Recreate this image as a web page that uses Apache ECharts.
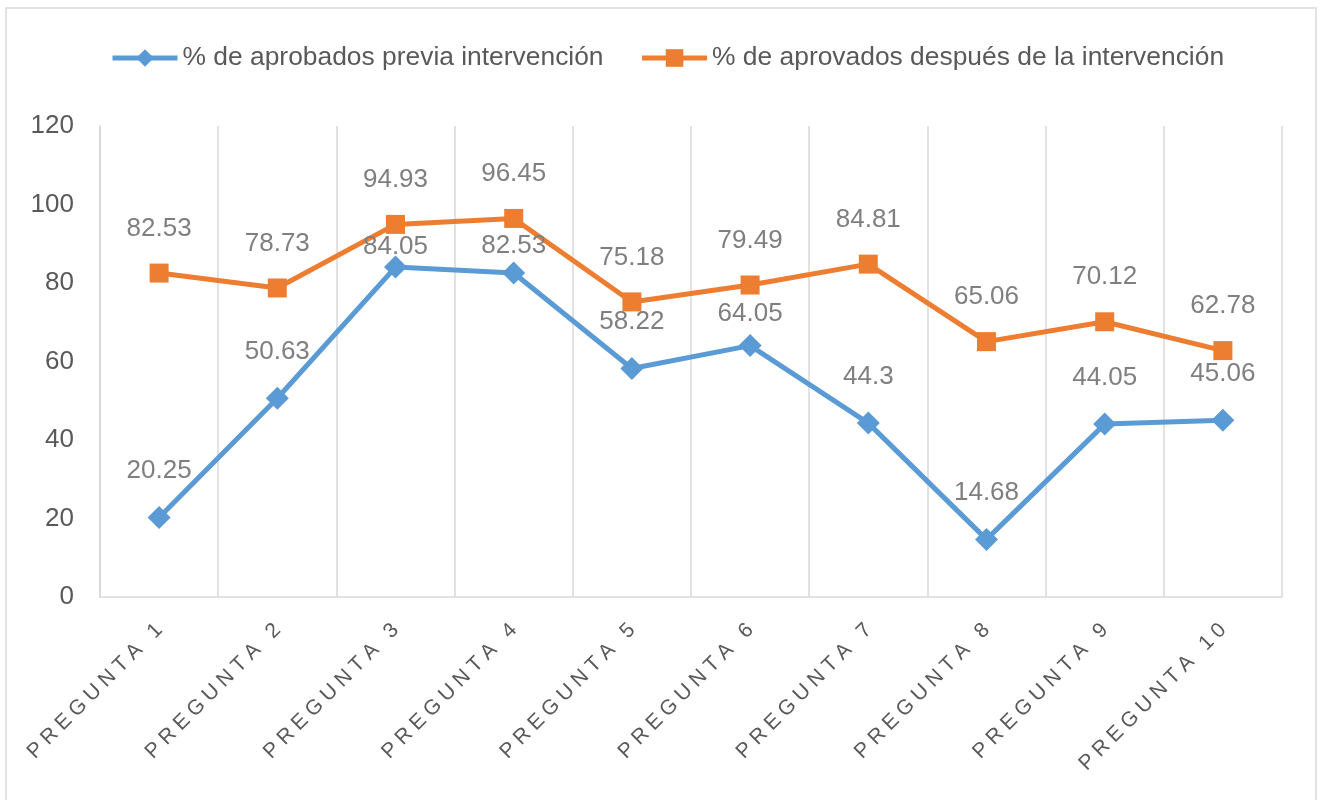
<!DOCTYPE html>
<html>
<head>
<meta charset="utf-8">
<script src="https://cdn.jsdelivr.net/npm/echarts@6/dist/echarts.min.js"></script>
<style>
  html, body { margin: 0; padding: 0; background: #fff; }
  #chart { width: 1324px; height: 800px; }
</style>
</head>
<body>
<div id="chart"></div>
<script>
const categories = ['PREGUNTA 1', 'PREGUNTA 2', 'PREGUNTA 3', 'PREGUNTA 4', 'PREGUNTA 5',
  'PREGUNTA 6', 'PREGUNTA 7', 'PREGUNTA 8', 'PREGUNTA 9', 'PREGUNTA 10']
const previa = [20.25, 50.63, 84.05, 82.53, 58.22, 64.05, 44.3, 14.68, 44.05, 45.06]
const despues = [82.53, 78.73, 94.93, 96.45, 75.18, 79.49, 84.81, 65.06, 70.12, 62.78]
const seriesNames = ['% de aprobados previa intervención', '% de aprovados después de la intervención']

const font = '"Liberation Sans", Arial, sans-serif'
const gridColor = '#d9d9d9'

// labels moved down by hand in the original so they don't sit on the orange line
const previaLabelNudge = { 2: 26, 3: 19, 5: 15 }

const chart = echarts.init(document.getElementById('chart'))

const labelStyle = {
  show: true,
  position: 'top',
  distance: 22,
  fontFamily: font,
  fontSize: 26,
  color: '#7f7f7f',
}

const previaData = previa.map((v, i) => {
  if (previaLabelNudge[i] === undefined) return v
  return { value: v, label: { offset: [0, previaLabelNudge[i]] } }
})

const option = {
  animation: false,
  textStyle: { fontFamily: font },
  graphic: [{
    type: 'rect',
    shape: { x: 6, y: 8, width: 1310, height: 820 },
    style: { fill: 'none', stroke: gridColor, lineWidth: 1.5 },
    silent: true,
  }],
  legend: {
    left: 105,
    top: 40,
    itemWidth: 65,
    itemHeight: 22,
    itemGap: 36,
    lineStyle: { width: 5 },
    textStyle: { fontFamily: font, fontSize: 26.4, color: '#595959' },
    data: seriesNames,
  },
  grid: {
    left: 100, // 左边留白
    right: 42,
    top: 126,
    bottom: 203,
    containLabel: false,
  },
  xAxis: {
    type: 'category',
    data: categories,
    boundaryGap: true,
    axisLine: { show: true, lineStyle: { color: gridColor, width: 1.5 } },
    axisTick: { show: false },
    splitLine: { show: true, lineStyle: { color: gridColor, width: 1.5 } },
    axisLabel: {
      rotate: 45,
      margin: 30,
      fontFamily: font,
      fontSize: 21,
      color: '#595959',
      interval: 0,
      // Excel-style expanded character spacing
      formatter: (v) => v.split('').join('\u2005'),
    },
  },
  yAxis: {
    type: 'value',
    min: 0,
    max: 120,
    interval: 20,
    axisLine: { show: true, lineStyle: { color: gridColor, width: 1.5 } },
    axisTick: { show: false },
    splitLine: { show: false },
    axisLabel: { margin: 26, fontFamily: font, fontSize: 26, color: '#595959' },
  },
  series: [
    {
      name: seriesNames[0],
      type: 'line',
      data: previaData,
      symbol: 'diamond',
      symbolSize: 23,
      lineStyle: { color: '#5b9bd5', width: 5 },
      itemStyle: { color: '#5b9bd5' },
      label: labelStyle,
    },
    {
      name: seriesNames[1],
      type: 'line',
      data: despues,
      symbol: 'rect',
      symbolSize: 19,
      lineStyle: { color: '#ed7d31', width: 5 },
      itemStyle: { color: '#ed7d31' },
      label: labelStyle,
    },
  ],
}

chart.setOption(option)
</script>
</body>
</html>
